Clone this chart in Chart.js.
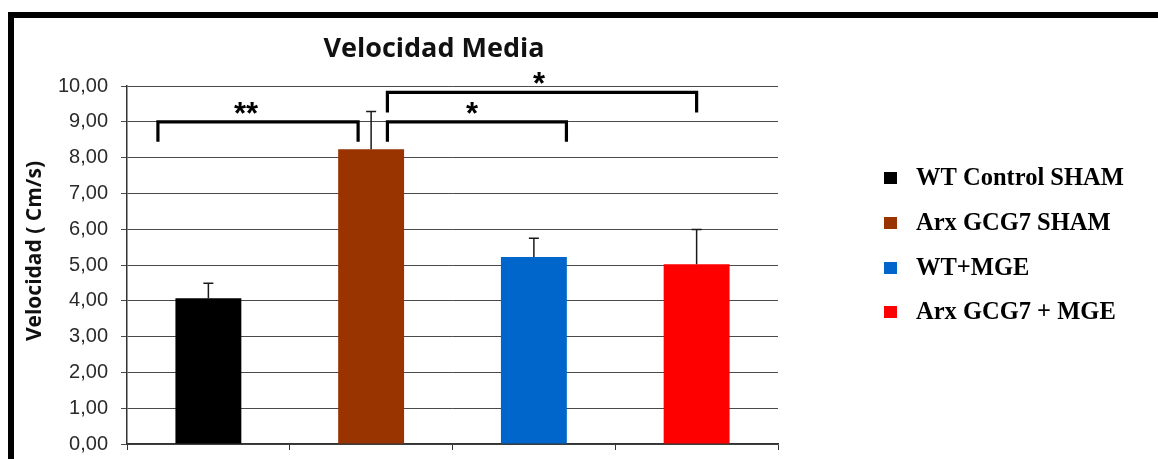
<!DOCTYPE html>
<html>
<head>
<meta charset="utf-8">
<script src="https://cdn.jsdelivr.net/npm/chart.js@4/dist/chart.umd.min.js"></script>
<style>
  html, body { margin: 0; padding: 0; background: #ffffff; }
  #wrap { width: 1158px; height: 459px; }
</style>
</head>
<body>
<div id="wrap"><canvas id="chart" width="1158" height="459"></canvas></div>
<script>
// Groups, mean speed and upper error (standard error) for each group
const groups = ['WT Control SHAM', 'Arx GCG7 SHAM', 'WT+MGE', 'Arx GCG7 + MGE'];
const meanSpeed = [4.07, 8.23, 5.22, 5.02];
const speedError = [0.42, 1.06, 0.53, 0.97];
const groupColors = ['#000000', '#993300', '#0066cc', '#ff0000'];

// Value axis ticks
const yTicks = [0, 1, 2, 3, 4, 5, 6, 7, 8, 9, 10];

// Significance comparisons between groups
const sigPairs = [[0, 1], [1, 2], [1, 3]];
const sigLabels = ['**', '*', '*'];
const sigLevels = [9.0, 9.0, 9.82];

const chartTitle = 'Velocidad Media';
const yTitle = 'Velocidad ( Cm/s)';

// Bracket ends expressed as offsets in category units, plus leg drop in px
const bracketStyle = [
  { left: -0.31, right: -0.08, drop: 20, labelShift: -12 },
  { left: 0.10, right: 0.20, drop: 20, labelShift: -5 },
  { left: 0.10, right: 0.00, drop: 20, labelShift: -3 }
];

const decorations = {
  id: 'decorations',
  beforeDraw(chart) {
    const ctx = chart.ctx;
    ctx.save();
    ctx.fillStyle = '#ffffff';
    ctx.fillRect(0, 0, chart.width, chart.height);
    // frame bands along the top and left
    ctx.fillStyle = '#000000';
    ctx.fillRect(8, 12, chart.width - 8, 6);
    ctx.fillRect(8, 12, 6, chart.height - 12);
    ctx.restore();
  },
  afterDatasetsDraw(chart) {
    const ctx = chart.ctx;
    const x = chart.scales.x;
    const y = chart.scales.y;
    const meta = chart.getDatasetMeta(0);
    ctx.save();
    // error bars (upper only)
    ctx.strokeStyle = '#1a1a1a';
    ctx.lineWidth = 1.5;
    meta.data.forEach((bar, i) => {
      const top = y.getPixelForValue(meanSpeed[i] + speedError[i]);
      const base = y.getPixelForValue(meanSpeed[i]);
      ctx.beginPath();
      ctx.moveTo(bar.x, base);
      ctx.lineTo(bar.x, top);
      ctx.moveTo(bar.x - 5, top);
      ctx.lineTo(bar.x + 5, top);
      ctx.stroke();
    });
    // significance brackets
    const step = x.getPixelForValue(1) - x.getPixelForValue(0);
    ctx.strokeStyle = '#000000';
    ctx.lineWidth = 3.2;
    ctx.lineCap = 'butt';
    ctx.lineJoin = 'miter';
    ctx.fillStyle = '#000000';
    ctx.font = 'bold 31px "Liberation Sans", Arial, sans-serif';
    ctx.textAlign = 'center';
    ctx.textBaseline = 'alphabetic';
    sigPairs.forEach((pair, k) => {
      const st = bracketStyle[k];
      const x1 = x.getPixelForValue(pair[0]) + st.left * step;
      const x2 = x.getPixelForValue(pair[1]) + st.right * step;
      const yy = y.getPixelForValue(sigLevels[k]);
      ctx.beginPath();
      ctx.moveTo(x1, yy + st.drop);
      ctx.lineTo(x1, yy);
      ctx.lineTo(x2, yy);
      ctx.lineTo(x2, yy + st.drop);
      ctx.stroke();
      ctx.fillText(sigLabels[k], (x1 + x2) / 2 + st.labelShift, yy + 2);
    });
    ctx.restore();
  },
  afterDraw(chart) {
    const ctx = chart.ctx;
    ctx.save();
    // chart title
    ctx.fillStyle = '#111111';
    ctx.font = 'bold 27px "Open Sans", sans-serif';
    ctx.textAlign = 'center';
    ctx.textBaseline = 'alphabetic';
    ctx.fillText(chartTitle, 434, 57);
    // value axis title
    ctx.save();
    ctx.translate(41, 251);
    ctx.rotate(-Math.PI / 2);
    ctx.font = 'bold 21px "Open Sans", sans-serif';
    ctx.fillText(yTitle, 0, 0);
    ctx.restore();
    // legend
    const rowY = [178, 223, 268, 312];
    ctx.font = 'bold 24.5px "Liberation Serif", "Times New Roman", serif';
    ctx.textAlign = 'left';
    ctx.textBaseline = 'middle';
    groups.forEach((g, i) => {
      ctx.fillStyle = groupColors[i];
      ctx.fillRect(884, rowY[i] - 6, 13, 12);
      ctx.fillStyle = '#000000';
      ctx.fillText(g, 916, rowY[i] + 1);
    });
    ctx.restore();
  }
};

new Chart(document.getElementById('chart'), {
  type: 'bar',
  data: {
    labels: groups,
    datasets: [{
      data: meanSpeed,
      backgroundColor: groupColors,
      borderWidth: 0,
      categoryPercentage: 1,
      barPercentage: 0.405
    }]
  },
  options: {
    responsive: false,
    animation: false,
    devicePixelRatio: 1,
    layout: { padding: { left: 0, top: 86, right: 380, bottom: 9 } },
    plugins: {
      legend: { display: false },
      tooltip: { enabled: false },
      title: { display: false }
    },
    scales: {
      x: {
        offset: true,
        grid: { offset: true, drawOnChartArea: false, drawTicks: true, tickLength: 6, color: '#333333', lineWidth: 1 },
        border: { color: '#333333', width: 1.5 },
        ticks: { display: false },
        afterFit(scale) {
          scale.height = 6;
          scale.paddingLeft = 0; scale.paddingRight = 0;
          scale.paddingTop = 0; scale.paddingBottom = 0;
        }
      },
      y: {
        min: 0,
        max: 10,
        afterBuildTicks(scale) { scale.ticks = yTicks.map(v => ({ value: v })); },
        grid: { color: '#4a4a4a', lineWidth: 1, tickLength: 6, drawTicks: true },
        border: { color: '#333333', width: 1.5 },
        ticks: {
          padding: 13,
          color: '#2a2a2a',
          font: { family: '"Liberation Sans", Arial, sans-serif', size: 20 },
          callback: v => v.toFixed(2).replace('.', ',')
        },
        afterFit(scale) {
          scale.width = 127;
          scale.paddingTop = 0; scale.paddingBottom = 0;
          scale.paddingLeft = 0; scale.paddingRight = 0;
        }
      }
    }
  },
  plugins: [decorations]
});
</script>
</body>
</html>
